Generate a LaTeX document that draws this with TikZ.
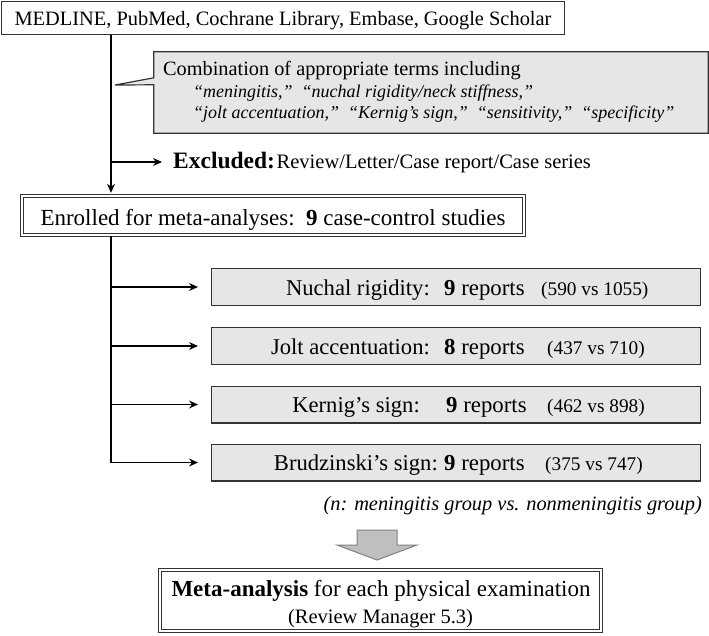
\documentclass[tikz,border=0pt]{standalone}
\usepackage{fontspec}
\setmainfont{Liberation Serif}
\usetikzlibrary{arrows.meta}
\definecolor{boxgray}{HTML}{E6E6E6}
\definecolor{linec}{HTML}{333333}
\definecolor{arrowfill}{HTML}{BFBFBF}
\definecolor{arrowline}{HTML}{808080}
\newcommand{\fs}[1]{\fontsize{#1}{#1}\selectfont}
\begin{document}
\begin{tikzpicture}[x=1pt,y=-1pt,
  plainbox/.style={draw=linec, line width=1.2pt, fill=white, inner sep=0pt},
  graybox/.style={draw=linec, line width=1.2pt, fill=boxgray, inner sep=0pt, minimum width=488.8pt, minimum height=36.8pt},
  dblbox/.style={draw=linec, double=white, line width=1pt, double distance=1.6pt, inner sep=0pt},
  txt/.style={inner sep=0pt},
  lbl/.style={txt, anchor=base east, font=\fs{22.6}},
  rep/.style={txt, anchor=base west, font=\fs{22.8}},
  cnt/.style={txt, anchor=base west, font=\fs{19.3}},
  arr/.style={draw=black, line width=1.2pt, -{Stealth[length=9pt,width=8pt,inset=3pt]}},
  conn/.style={draw=black, line width=1.2pt}
]
\useasboundingbox[fill=white] (0,0) rectangle (709,635);

% source box
\node[plainbox, minimum width=563pt, minimum height=33pt] (src) at (283,18) {};
\node[txt, anchor=base, font=\fs{20.4}] (srct) at (283,25) {MEDLINE, PubMed, Cochrane Library, Embase, Google Scholar};

% callout
\node[inner sep=0pt, minimum width=554pt, minimum height=81pt] (call) at (431,92.5) {};
\coordinate (tip) at (115,85);
\draw[line width=1.2pt, draw=linec, fill=boxgray] (call.north west) -- (call.north east) -- (call.south east) -- (call.south west) -- ([yshift=-33pt]call.north west) -- (tip) -- ([yshift=-26pt]call.north west) -- cycle;
\node[txt, anchor=base west, font=\fs{20.3}] (c1) at (163,75) {Combination of appropriate terms including};
\node[txt, anchor=base west, font=\fs{18}\itshape] (c2) at (193,97) {“meningitis,”\ \ “nuchal rigidity/neck stiffness,”};
\node[txt, anchor=base west, font=\fs{18}\itshape] (c3) at (193,118.5) {“jolt accentuation,”\ \ “Kernig’s sign,”\ \ “sensitivity,”\ \ “specificity”};

% excluded
\node[txt, anchor=base west] (exc) at (173,168) {{\fs{23.5}\bfseries Excluded:}\,{\fs{20.5}Review/Letter/Case report/Case series}};

% enrolled
\node[dblbox, fill=white, minimum width=502.4pt, minimum height=39.4pt] (enr) at (273,215.5) {};
\node[txt, anchor=base, font=\fs{23}] (enrt) at (273,225) {Enrolled for meta-analyses:\ \ \textbf{9} case-control studies};

% connectors top
\coordinate (v1) at (111,35);
\draw[arr, shorten >=2.5pt] (v1) -- (v1 |- enr.north);
\coordinate (ex) at (111,162);
\draw[arr, shorten >=11pt] (ex) -- (ex -| exc.west);

% report boxes
\node[graybox] (r1) at (456,287) {};
\node[lbl] (r1a) at (430,295) {Nuchal rigidity:};
\node[rep] (r1b) at (444,295) {\textbf{9} reports};
\node[cnt] (r1c) at (541,295) {(590 vs 1055)};

\node[graybox] (r2) at (456,346) {};
\node[lbl] (r2a) at (430,354) {Jolt accentuation:};
\node[rep] (r2b) at (444,354) {\textbf{8} reports};
\node[cnt] (r2c) at (547,354) {(437 vs 710)};

\node[graybox] (r3) at (456,404.5) {};
\node[lbl] (r3a) at (420,412) {Kernig’s sign:};
\node[rep] (r3b) at (446,412) {\textbf{9} reports};
\node[cnt] (r3c) at (547,412) {(462 vs 898)};

\node[graybox] (r4) at (456,462.5) {};
\node[lbl] (r4a) at (438,470) {Brudzinski’s sign:};
\node[rep] (r4b) at (444,470) {\textbf{9} reports};
\node[cnt] (r4c) at (545,470) {(375 vs 747)};

\draw[conn] (v1 |- enr.south) -- (v1 |- r4.west);
\draw[arr, shorten >=13pt] (v1 |- r1.west) -- (r1.west);
\draw[arr, shorten >=13pt] (v1 |- r2.west) -- (r2.west);
\draw[arr, shorten >=13pt] (v1 |- r3.west) -- (r3.west);
\draw[arr, shorten >=13pt] (v1 |- r4.west) -- (r4.west);

% note
\node[txt, anchor=base east, font=\fs{20.4}\itshape] (note) at (702,510) {(n: meningitis group vs. nonmeningitis group)};

% big gray arrow
\filldraw[fill=arrowfill, draw=arrowline, line width=1pt] (357,530) -- (397,530) -- (397,545) -- (417,545) -- (377,560) -- (337,545) -- (357,545) -- cycle;

% meta box
\node[dblbox, fill=white, minimum width=441.4pt, minimum height=61.4pt] (meta) at (380.5,600.5) {};
\node[txt, anchor=base, font=\fs{23}] (m1) at (381,596.5) {\textbf{Meta-analysis} for each physical examination};
\node[txt, anchor=base, font=\fs{20.5}] (m2) at (380.5,623) {(Review Manager 5.3)};
\end{tikzpicture}
\end{document}
